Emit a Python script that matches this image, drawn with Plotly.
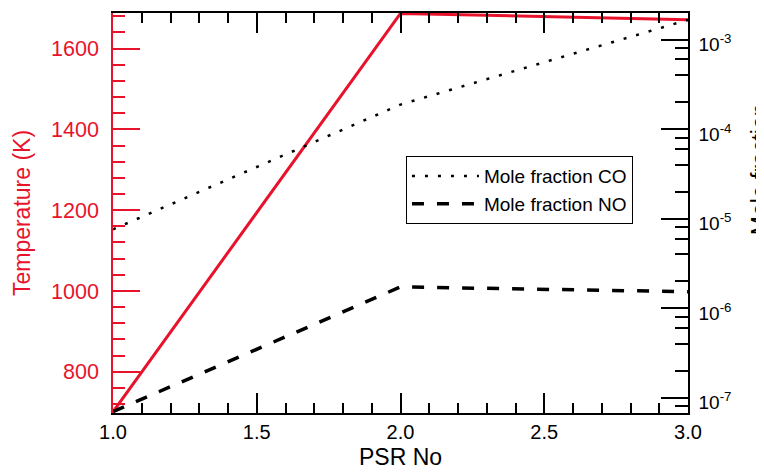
import plotly.graph_objects as go

# ---- data ----
psr_no = [1.0, 2.0, 3.0]
temperature_k = [701, 1687, 1671]
mole_fraction_co = [7.6e-6, 1.88e-4, 1.66e-3]
mole_fraction_no = [7.0e-8, 1.73e-6, 1.53e-6]

x_ticks = [1.0, 1.5, 2.0, 2.5, 3.0]
x_ticktext = ["1.0", "1.5", "2.0", "2.5", "3.0"]
t_ticks = [800, 1000, 1200, 1400, 1600]
mf_ticks = [1e-7, 1e-6, 1e-5, 1e-4, 1e-3]
mf_ticktext = ["10<sup>-7</sup>", "10<sup>-6</sup>", "10<sup>-5</sup>",
               "10<sup>-4</sup>", "10<sup>-3</sup>"]
mf_minor = [m * 10.0 ** e for e in range(-8, -2) for m in (2, 4, 6, 8)]

RED = "#e8132b"
FONT = "Liberation Sans, Arial, Helvetica, sans-serif"

fig = go.Figure()

fig.add_trace(go.Scatter(
    x=psr_no, y=temperature_k, mode="lines", yaxis="y",
    line=dict(color=RED, width=3), showlegend=False, name="Temperature"))

fig.add_trace(go.Scatter(
    x=psr_no, y=mole_fraction_co, mode="lines", yaxis="y2",
    line=dict(color="black", width=2.5, dash="3px,10px"),
    name="Mole fraction CO"))

fig.add_trace(go.Scatter(
    x=psr_no, y=mole_fraction_no, mode="lines", yaxis="y2",
    line=dict(color="black", width=3.5, dash="12px,13px"),
    name="Mole fraction NO"))

# the page body has an 8px default margin, so the figure is sized to fit
fig.update_layout(
    width=756, height=465,
    margin=dict(l=105, r=75.6, t=3, b=60, pad=0),
    paper_bgcolor="white", plot_bgcolor="white",
    font=dict(family=FONT, color="black"),
    xaxis=dict(
        range=[1, 3], tickvals=x_ticks, ticktext=x_ticktext,
        ticks="inside", ticklen=20, tickwidth=1.5, tickcolor="black",
        minor=dict(dtick=0.1, tick0=1.0, ticks="inside", ticklen=10,
                   tickwidth=1.5, tickcolor="black"),
        showline=True, linecolor="black", linewidth=1.5, mirror="ticks",
        showgrid=False, zeroline=False,
        tickfont=dict(size=20, color="black"), ticklabelstandoff=0,
        title=dict(text="PSR No", font=dict(size=23, color="black"),
                   standoff=7),
    ),
    yaxis=dict(
        range=[698, 1688], tickvals=t_ticks,
        ticks="inside", ticklen=27, tickwidth=1.5, tickcolor=RED,
        minor=dict(dtick=40, tick0=800, ticks="inside", ticklen=12,
                   tickwidth=1.5, tickcolor=RED),
        showline=True, linecolor=RED, linewidth=1.5,
        showgrid=False, zeroline=False,
        tickfont=dict(size=21.5, color=RED), ticklabelstandoff=8,
        title=dict(text="Temperature (K)", font=dict(size=23, color=RED),
                   standoff=14),
    ),
    yaxis2=dict(
        type="log", overlaying="y", side="right",
        range=[-7.17, -2.703], tickvals=mf_ticks, ticktext=mf_ticktext,
        ticks="inside", ticklen=27, tickwidth=1.5, tickcolor="black",
        minor=dict(tickmode="array", tickvals=mf_minor, ticks="inside",
                   ticklen=13, tickwidth=1.5, tickcolor="black"),
        showline=True, linecolor="black", linewidth=1.5,
        showgrid=False, zeroline=False,
        tickfont=dict(size=19, color="black"), ticklabelstandoff=5,
        ticklabelshift=5,
    ),
    legend=dict(
        x=0.5095, y=0.642, xanchor="left", yanchor="top",
        bgcolor="white", bordercolor="black", borderwidth=1,
        font=dict(size=19, color="black"), itemwidth=67,
        tracegroupgap=0,
    ),
    annotations=[dict(
        text="Mole fraction", xref="paper", yref="paper",
        x=1.1252, y=0.6095, xanchor="center", yanchor="middle",
        textangle=-90, showarrow=False,
        font=dict(size=23, color="black"),
    )],
)

fig.write_html("out.html")
